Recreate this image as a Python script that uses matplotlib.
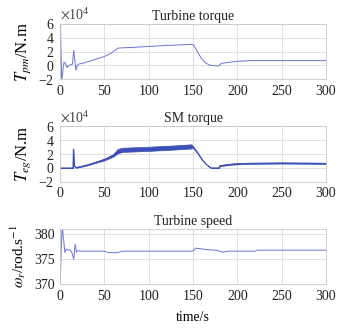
import numpy as np
import matplotlib.pyplot as plt
from matplotlib.ticker import ScalarFormatter

# turbine torque (x1e4 N.m)
t_pm = [0, 0.5, 1.0, 2.0, 3.0, 4.5, 6.0, 8.0, 10.0, 12.0, 14.0, 15.5, 16.5, 18.0, 19.5, 21.0, 25.0,
        35.0, 50.0, 58.0, 65.0, 70.0, 80.0, 100.0, 120.0, 140.0, 149.0, 151.0, 155.0, 160.0, 165.0,
        170.0, 176.0, 179.0, 182.0, 190.0, 200.0, 215.0, 250.0, 300.0]
T_pm = [0.0, 6.5, 2.8, -2.5, -1.0, 0.5, 0.3, -0.3, 0.0, 0.1, 0.2, 2.2, 1.0, -0.7, 0.0, 0.2, 0.3,
        0.7, 1.3, 1.8, 2.5, 2.55, 2.6, 2.75, 2.9, 3.0, 3.05, 2.9, 2.0, 0.9, 0.3,
        0.0, -0.05, -0.05, 0.3, 0.45, 0.6, 0.7, 0.7, 0.7]

# SM torque: centre line and ripple half-width (x1e4 N.m)
t_sm = [0, 14.5, 15.0, 15.5, 16.5, 18.0, 20.0, 30.0, 40.0, 50.0, 60.0, 65.0, 70.0, 100.0, 130.0,
        148.0, 150.0, 155.0, 160.0, 165.0, 170.0, 175.0, 179.5, 180.0, 185.0, 195.0, 210.0, 250.0, 300.0]
T_sm = [0.0, 0.0, 2.7, 0.5, 0.2, 0.05, 0.1, 0.4, 0.8, 1.2, 1.8, 2.4, 2.6, 2.75, 2.95,
        3.1, 3.0, 2.2, 1.2, 0.5, 0.0, 0.0, 0.0, 0.3, 0.4, 0.55, 0.65, 0.7, 0.65]
ripple = [0.0, 0.0, 0.0, 0.0, 0.03, 0.03, 0.05, 0.07, 0.09, 0.12, 0.18, 0.32, 0.3, 0.3, 0.3,
          0.3, 0.12, 0.06, 0.04, 0.02, 0.02, 0.02, 0.02, 0.06, 0.08, 0.08, 0.08, 0.08, 0.08]

# turbine speed (rad/s)
t_w = [0, 0.5, 1.5, 2.5, 4.0, 5.5, 7.0, 9.0, 11.0, 13.0, 15.5, 17.0, 18.5, 20.0, 23.0, 50.0,
       55.0, 65.0, 70.0, 150.0, 153.0, 158.0, 165.0, 175.0, 180.0, 183.0, 190.0, 220.0, 222.0, 300.0]
w_r = [369.5, 372.0, 378.0, 381.5, 379.0, 376.3, 377.0, 376.8, 376.9, 376.5, 375.0, 378.0, 376.4, 376.7,
       376.6, 376.6, 376.3, 376.3, 376.6, 376.6, 377.2, 377.1, 376.9, 376.8, 376.6, 376.4, 376.6, 376.6, 376.8, 376.8]

plt.rcParams['font.family'] = 'Liberation Serif'
plt.rcParams['mathtext.fontset'] = 'stix'
plt.rcParams['font.size'] = 10
plt.rcParams['text.color'] = '#222222'

fig, axes = plt.subplots(3, 1, figsize=(3.41, 3.33), dpi=100)
fig.subplots_adjust(left=0.176, right=0.956, top=0.928, bottom=0.147, hspace=0.85)

scale = 1e4
ax = axes[0]
ax.plot(t_pm, np.array(T_pm) * scale, color='#6b74d4', lw=0.7)
ax.set_ylim(-2 * scale, 6 * scale)
ax.set_yticks(np.arange(-2, 7, 2) * scale)
ax.set_ylabel('$T_{pm}$/N.m', fontsize=12, labelpad=4)
ax.set_title('Turbine torque', fontsize=10, pad=3)

ax = axes[1]
sm = np.array(T_sm) * scale
rp = np.array(ripple) * scale
ax.fill_between(t_sm, sm - rp, sm + rp, color='#3d4fb8', lw=0.5)
ax.plot(t_sm, sm, color='#3d4fb8', lw=0.6)
ax.set_ylim(-2 * scale, 6 * scale)
ax.set_yticks(np.arange(-2, 7, 2) * scale)
ax.set_ylabel('$T_{eg}$/N.m', fontsize=12, labelpad=4)
ax.set_title('SM torque', fontsize=10, pad=3)

ax = axes[2]
ax.plot(t_w, w_r, color='#6b74d4', lw=0.7)
ax.set_ylim(370, 381.1)
ax.set_yticks([370, 375, 380])
ax.set_ylabel('$\\omega_r$/rod.s$^{-1}$', fontsize=11, labelpad=4)
ax.set_title('Turbine speed', fontsize=10, pad=3)
ax.set_xlabel('time/s', labelpad=6)

for a in axes:
    a.set_xlim(0, 300)
    a.set_xticks(range(0, 301, 50))
    a.grid(True, color='#d9d9d9', lw=0.6)
    a.tick_params(length=0, pad=4, labelsize=10, labelcolor='#222222')
    for s in a.spines.values():
        s.set_color('#c8c8c8')
        s.set_linewidth(0.6)
    a.set_axisbelow(True)

for a in axes[:2]:
    fmt = ScalarFormatter(useMathText=True)
    fmt.set_powerlimits((0, 0))
    a.yaxis.set_major_formatter(fmt)
    a.yaxis.get_offset_text().set_fontsize(10)
    a.yaxis.get_offset_text().set_color('#444444')

fig.savefig('out.png', dpi=100)
